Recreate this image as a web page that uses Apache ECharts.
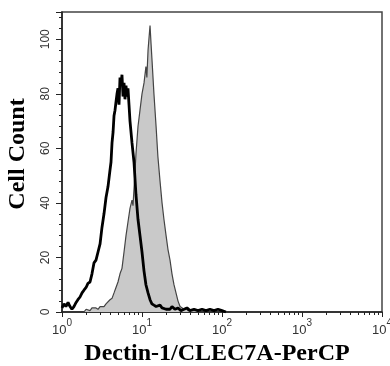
<!DOCTYPE html>
<html>
<head>
<meta charset="utf-8">
<script src="https://cdn.jsdelivr.net/npm/echarts@6/dist/echarts.min.js"></script>
<style>
html,body{margin:0;padding:0;background:#fff;}
#chart{width:390px;height:366px;}
</style>
</head>
<body>
<div id="chart"></div>
<script>
// Isotype control (black outline) - fluorescence intensity vs cell count
var isotypeX = [1.00,1.06,1.12,1.19,1.26,1.33,1.41,1.50,1.58,1.68,1.78,1.88,2.00,2.11,2.24,2.37,2.51,2.66,2.82,2.99,3.16,3.35,3.55,3.76,3.98,4.10,4.22,4.35,4.47,4.60,4.73,4.87,5.01,5.16,5.31,5.46,5.62,5.79,5.96,6.13,6.31,6.49,6.68,6.88,7.08,7.50,7.94,8.41,8.91,9.44,10.0,10.6,11.2,11.9,12.6,13.3,14.1,15.0,15.8,16.8,17.8,18.8,20.0,21.1,22.4,23.7,25.8,28.2,30.7,33.5,36.5,39.8,44.7,50.1,56.2,63.1,70.8,79.4,89.1,100,112];
var isotypeY = [1.5,3,2,3.5,2,1,2,3.5,4.5,5.5,7,8,9,10.5,11,14,18,19,22,25,31,36,42,46,52,55,62,66,72,74,77,80,82,76,86,83,87,79,84,78,83,79,82,76,70,62,55,43,34,28,22,15,10,7,4.5,3,2.5,2,1.5,2.5,1.5,2,1,1.5,1,2,1,1.5,0.5,1,1.5,0.5,1,0.5,1,0.5,1,0.5,1,0.5,0];
// Dectin-1/CLEC7A stained (grey filled)
var dectinX = [1.88,2.00,2.11,2.24,2.37,2.51,2.66,2.82,2.99,3.16,3.35,3.55,3.76,3.98,4.22,4.47,4.73,5.01,5.31,5.62,5.96,6.31,6.68,7.08,7.50,7.72,7.94,8.41,8.91,9.44,10.0,10.6,11.2,11.5,11.9,12.2,12.6,13.0,13.3,14.1,15.0,15.8,16.8,17.8,18.8,20.0,21.1,22.4,23.7,25.1,26.6,28.2,29.9,31.6,33.5,35.5,37.6,39.8,43.4,47.3,53.1];
var dectinY = [0,1,1.5,0.5,1.5,1,1.5,1,2,2.5,2,3,3.5,4.5,5,7,9,11,14,16,22,28,33,38,41,39,45,58,68,74,80,84,90,86,96,100,105,98,93,80,68,57,48,40,34,28,23,19,14,10,7,4,2,1.5,1,1.5,0.5,1,0.5,0.5,0];
var yTicks = [0,20,40,60,80,100];
var xMajor = [1,10,100,1000,10000];
var xMinor = [2,3,4,5,6,7,8,9,20,30,40,50,60,70,80,90,200,300,400,500,600,700,800,900,2000,3000,4000,5000,6000,7000,8000,9000];

function pairs(xs, ys){ return xs.map(function(x,i){ return [x, ys[i]]; }); }

var chart = echarts.init(document.getElementById('chart'), null, {renderer:'canvas'});
var axisFont = {fontFamily:'Liberation Sans, Arial, sans-serif', fontSize:12, color:'#333'};
chart.setOption({
  animation:false,
  backgroundColor:'#fff',
  grid:{left:62, right:8, top:12, bottom:54, containLabel:false, outerBoundsMode:'none', show:true, borderColor:'#444', borderWidth:1.5, backgroundColor:'transparent'},
  xAxis:[{
    type:'log', logBase:10, min:1, max:10000, position:'bottom',
    name:'Dectin-1/CLEC7A-PerCP', nameLocation:'middle', nameGap:28,
    nameTextStyle:{fontFamily:'Liberation Serif, Times New Roman, serif', fontWeight:'bold', fontSize:24, color:'#000', padding:[0,10,0,0]},
    axisLine:{lineStyle:{color:'#222', width:1.5}},
    axisTick:{show:true, length:5, inside:false, customValues:xMajor, lineStyle:{color:'#222', width:1}},
    splitLine:{show:false},
    axisLabel:{
      customValues:xMajor, margin:6,
      formatter:function(v){ var e = Math.round(Math.log10(v)); return '{b|10}{s|' + e + '}'; },
      rich:{
        b:{fontFamily:'Liberation Sans, Arial, sans-serif', fontSize:13, color:'#333', verticalAlign:'bottom', padding:[6,0,0,0]},
        s:{fontFamily:'Liberation Sans, Arial, sans-serif', fontSize:10, color:'#333', verticalAlign:'top', padding:[0,0,6,0]}
      }
    }
  },{
    type:'log', logBase:10, min:1, max:10000, position:'bottom', gridIndex:0,
    axisLine:{show:false},
    axisTick:{show:true, length:3, customValues:xMinor, lineStyle:{color:'#222', width:1}},
    axisLabel:{show:false},
    splitLine:{show:false}
  }],
  yAxis:{
    type:'value', min:0, max:110, interval:20,
    name:'Cell Count', nameLocation:'middle', nameGap:32, nameRotate:90,
    nameTextStyle:{fontFamily:'Liberation Serif, Times New Roman, serif', fontWeight:'bold', fontSize:24, color:'#000', padding:[0,0,0,16]},
    axisLine:{show:true, lineStyle:{color:'#222', width:1.5}},
    axisTick:{show:true, length:6, lineStyle:{color:'#222', width:1}},
    minorTick:{show:true, splitNumber:5, length:3, lineStyle:{color:'#222', width:1}},
    splitLine:{show:false},
    minorSplitLine:{show:false},
    axisLabel:Object.assign({rotate:90, margin:10, showMaxLabel:false,
      formatter:function(v){ return yTicks.indexOf(v) >= 0 ? String(v) : ''; }}, axisFont)
  },
  series:[{
    type:'line', name:'Dectin-1', xAxisIndex:0, data:pairs(dectinX, dectinY),
    showSymbol:false, symbol:'none',
    lineStyle:{color:'#444', width:1.2},
    areaStyle:{color:'#c9c9c9', opacity:1},
    z:2
  },{
    type:'line', name:'Isotype', xAxisIndex:0, data:pairs(isotypeX, isotypeY),
    showSymbol:false, symbol:'none',
    lineStyle:{color:'#000', width:2.8},
    z:3
  }]
});
</script>
</body>
</html>
